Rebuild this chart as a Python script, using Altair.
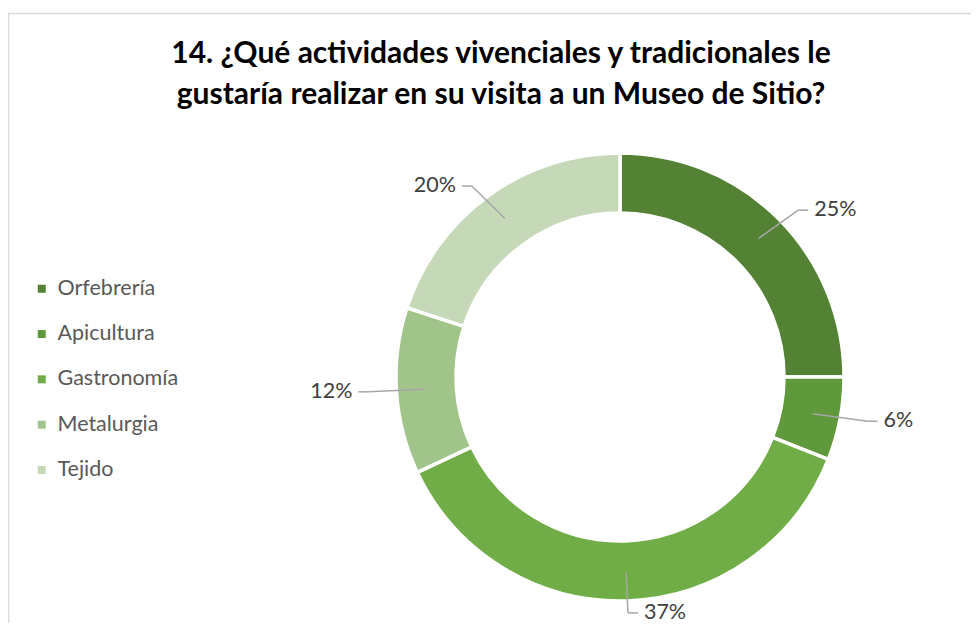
import altair as alt
import pandas as pd

categories = ["Orfebrería", "Apicultura", "Gastronomía", "Metalurgia", "Tejido"]
values = [25, 6, 37, 12, 20]
labels = ["25%", "6%", "37%", "12%", "20%"]
colors = ["#548235", "#5f993c", "#70ad47", "#a1c48b", "#c5d9b9"]
title_lines = [
    "14. ¿Qué actividades vivenciales y tradicionales le",
    "gustaría realizar en su visita a un Museo de Sitio?",
]

FONT = "Lato"
W = H = 448
R_OUT, R_IN = 224, 164
R_LINE0 = 196
ELB_A, ELB_B = 252, 236  # label ellipse (horizontal, vertical radius)

df = pd.DataFrame({"cat": categories, "value": values, "label": labels,
                   "idx": list(range(len(categories)))})

xs = alt.Scale(domain=[-W / 2, W / 2])
ys = alt.Scale(domain=[-H / 2, H / 2])

base = (
    alt.Chart(df)
    .transform_window(cum="sum(value)", sort=[alt.SortField("idx")])
    .transform_joinaggregate(total="sum(value)")
    .transform_calculate(mid="2*PI*(datum.cum - datum.value/2)/datum.total")
    .transform_calculate(
        x0=f"{R_LINE0}*sin(datum.mid)", y0=f"{R_LINE0}*cos(datum.mid)",
        xe=f"{ELB_A}*sin(datum.mid)", ye=f"{ELB_B}*cos(datum.mid)",
        side="sin(datum.mid) >= 0 ? 1 : -1",
    )
    .transform_calculate(xh="datum.xe + datum.side*10")
    .transform_calculate(xt="datum.xh + datum.side*6")
)

arcs = alt.Chart(df).mark_arc(
    innerRadius=R_IN, outerRadius=R_OUT, stroke="white", strokeWidth=3.5
).encode(
    theta=alt.Theta("value:Q", stack=True),
    order=alt.Order("idx:Q"),
    color=alt.Color(
        "cat:N",
        scale=alt.Scale(domain=categories, range=colors),
        sort=categories,
        legend=alt.Legend(
            title=None, orient="none", legendX=-365, legendY=125,
            symbolType="square", symbolSize=64, symbolStrokeWidth=0,
            labelFontSize=21.5, labelColor="#595959", labelFont=FONT,
            rowPadding=22.3, labelOffset=5,
        ),
    ),
)

seg1 = base.mark_rule(color="#a6a6a6", strokeWidth=1.5).encode(
    x=alt.X("x0:Q", scale=xs, axis=None), y=alt.Y("y0:Q", scale=ys, axis=None),
    x2="xe:Q", y2="ye:Q",
)
seg2 = base.mark_rule(color="#a6a6a6", strokeWidth=1.5).encode(
    x=alt.X("xe:Q", scale=xs, axis=None), y=alt.Y("ye:Q", scale=ys, axis=None),
    x2="xh:Q", y2="ye:Q",
)
txt_r = base.transform_filter("datum.side > 0").mark_text(
    align="left", baseline="middle", fontSize=21.5, font=FONT, color="#404040"
).encode(x=alt.X("xt:Q", scale=xs, axis=None), y=alt.Y("ye:Q", scale=ys, axis=None), text="label:N")
txt_l = base.transform_filter("datum.side < 0").mark_text(
    align="right", baseline="middle", fontSize=21.5, font=FONT, color="#404040"
).encode(x=alt.X("xt:Q", scale=xs, axis=None), y=alt.Y("ye:Q", scale=ys, axis=None), text="label:N")

title = alt.Chart(pd.DataFrame({"t": ["\n".join(title_lines)]})).mark_text(
    align="center", baseline="alphabetic", fontSize=30, fontWeight="bold", font=FONT,
    color="#000000", lineBreak="\n", lineHeight=41,
).encode(x=alt.value(105), y=alt.value(-90), text="t:N")

frame = alt.Chart(pd.DataFrame({"k": [0]})).mark_rect(
    fill=None, stroke="#d9d9d9", strokeWidth=1.5
).encode(x=alt.value(-387.5), x2=alt.value(700), y=alt.value(-139.5), y2=alt.value(600))

chart = alt.layer(frame, title, arcs, seg1, seg2, txt_r, txt_l).properties(
    width=W, height=H,
    padding={"left": 388, "top": 145, "right": 127, "bottom": 22},
    autosize="none",
).configure_view(stroke=None)

chart.save("out.html", embed_options={"renderer": "svg", "actions": False})
